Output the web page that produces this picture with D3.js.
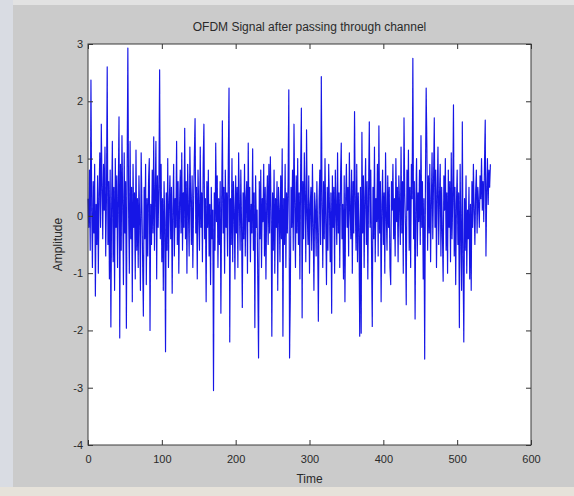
<!DOCTYPE html>
<html>
<head>
<meta charset="utf-8">
<script src="https://cdn.jsdelivr.net/npm/d3@7"></script>
<style>
  body { margin: 0; background: #cbcbcb; }
  svg text { font-family: "Liberation Sans", Arial, sans-serif; fill: #2a2a2a; }
</style>
</head>
<body>
<div id="chart-area"></div>
<script>
// amplitude per sample (sample index = time)
var amplitude = [
	0.3, -0.2, 0.8, -0.6, 2.37, 0.1, -0.9, 0.6, -0.3, 0.9,
	-1.4, 0.2, -0.5, 0.7, -1.0, 0.4, 1.1, -0.2, 1.6, 0.5,
	-0.4, 0.9, 0.1, 1.2, -0.7, 0.3, 2.6, -0.5, 0.6, -1.1,
	0.8, -1.94, 0.2, 1.3, -0.8, 0.5, -1.3, 1.0, -0.2, 0.7,
	-0.9, 0.4, 1.73, -2.13, 0.9, -0.6, 1.4, 0.2, -1.2, 1.1,
	-0.3, 0.6, -1.96, 0.8, 2.93, 0.1, -1.0, 1.3, -0.4, 0.5,
	-1.5, 0.9, -0.2, 0.4, -1.1, 1.15, -0.6, 0.3, -0.9, 0.7,
	-0.1, -1.3, 1.1, 0.2, -0.8, -1.75, 0.5, -0.4, 0.9, -1.2,
	0.3, -0.7, 0.6, 1.0, -2.0, 0.2, -0.5, 0.8, -0.3, 1.38,
	-0.6, 0.4, 1.3, -1.1, 0.7, -0.2, 0.5, 2.55, -0.4, 0.9,
	-0.8, 0.3, -1.3, 0.6, -0.1, -2.37, 0.4, -0.6, 1.0, -0.9,
	0.2, 0.7, -0.4, 0.5, -1.35, 0.1, 0.9, -0.7, 0.3, -0.2,
	1.3, -0.5, 0.6, -1.0, 0.2, 0.8, -0.3, 1.1, -0.6, 0.4,
	-0.2, 1.53, -0.4, 0.6, -1.0, 0.9, 0.1, -0.7, 1.2, 0.3,
	-0.5, 0.7, -0.9, 0.2, 1.0, 1.7, -0.3, 0.5, -1.1, 0.8,
	0.1, -0.6, 1.2, -0.2, 0.4, -0.8, 0.9, 1.6, -0.4, 0.3,
	-1.5, 0.6, -0.2, 0.8, -0.7, 0.2, -1.2, 0.5, -0.4, 0.1,
	-3.05, 0.4, -0.6, 1.27, -0.1, 0.7, -0.9, 0.3, -0.5, 0.6,
	-1.7, 0.2, 1.66, -0.3, 0.5, -1.0, 0.8, -0.2, 0.4, -0.7,
	0.9, 2.23, -2.2, 0.3, -0.5, 1.0, -0.8, 0.6, 0.1, -1.1,
	0.7, -0.3, 0.5, -0.9, 1.1, 0.2, -0.6, 0.8, -0.2, -1.6,
	0.4, -0.4, 0.9, -0.7, 0.3, 0.6, -1.0, 1.27, -0.1, 0.5,
	-0.8, 0.2, -0.3, 1.17, -0.6, 0.4, -1.95, 0.7, -0.2, 0.1,
	-1.2, -2.48, 0.6, -0.4, 0.8, -0.9, 0.3, -0.1, 0.9, -0.7,
	0.5, -1.1, 0.2, 0.7, -0.5, 0.9, -0.3, 1.03, 0.1, -2.1,
	0.4, -0.6, 0.8, -1.0, 0.3, -0.2, 0.6, -1.3, 0.5, 0.1,
	-0.8, 0.7, -0.4, 1.17, -2.1, 0.3, -0.5, 0.9, -0.9, 0.4,
	-0.3, 0.6, 2.2, -2.48, -1.4, 0.5, -0.2, 0.8, -0.6, 1.6,
	0.2, -0.9, 0.7, -0.3, 1.0, -0.5, 0.4, -1.1, 0.8, 1.88,
	-1.78, 0.6, -0.4, 1.1, 0.3, -0.8, 1.5, 0.0, -0.5, 0.7,
	-1.0, 0.2, 0.5, -0.6, 0.9, -0.2, -1.3, 0.4, 0.1, -0.7,
	0.6, -0.3, -1.84, 0.3, 0.8, -0.5, 2.43, 0.2, -0.9, 0.6,
	-0.4, 1.0, -0.1, -1.2, 0.5, -0.6, 0.9, 0.2, -0.8, 0.4,
	-1.7, 0.7, -0.2, 0.5, -1.0, 0.8, 0.1, -0.5, 1.1, -0.3,
	0.4, -0.9, 0.6, 1.27, -0.4, 0.2, -1.1, 0.7, -1.5, 0.3,
	0.9, -0.2, 0.5, -0.7, 1.1, 0.1, -0.4, 0.8, -1.0, 0.6,
	-0.3, 1.82, 0.2, -0.6, 0.9, -0.8, 0.4, -0.2, -2.1, 0.5,
	-2.05, 1.46, -0.3, 0.7, -0.9, 0.3, 1.0, -0.5, 0.6, -1.1,
	0.4, 1.64, -0.2, 0.8, -0.6, -1.93, 0.5, -0.4, 1.2, -0.8,
	0.3, -0.1, 0.9, -0.7, 1.57, -0.3, 0.6, -1.5, 0.2, 0.8,
	-0.5, 0.4, -1.0, 1.1, 0.0, -0.6, 0.7, -0.2, 0.5, -0.9,
	-1.2, 0.6, 0.1, 0.9, -0.4, 0.3, -0.7, 1.0, -0.1, 0.5,
	-0.8, 0.7, 0.2, -0.5, 1.2, -0.3, 0.6, -1.0, 1.71, 0.4,
	-0.2, -1.55, 0.8, 0.1, 1.15, -0.6, 0.5, -0.9, 0.9, 0.3,
	2.75, -0.4, 0.6, -1.8, 0.2, 1.0, -0.7, 0.4, -0.1, 0.8,
	-0.5, 1.4, -0.2, 0.6, -1.1, 0.3, -2.5, 0.5, 2.23, 1.2,
	-0.6, 0.7, -0.3, 0.9, -0.8, 0.2, 1.1, -0.4, 0.6, 1.71,
	-0.2, 0.8, -0.9, 0.4, 1.2, -0.5, 0.3, 0.9, -0.7, 0.5,
	-0.3, -1.14, 0.7, 0.1, 1.0, -0.6, 0.4, -1.0, 0.8, -0.2,
	0.6, -0.8, 1.1, -0.4, 0.3, 1.94, -0.7, 0.5, -1.2, 0.2,
	0.8, -0.5, 0.4, -1.95, 0.9, -0.3, -1.3, 1.64, -0.8, -2.2,
	0.3, -0.6, 0.7, -1.0, 0.1, -0.4, 0.5, -1.1, 0.2, -1.3,
	0.6, -0.2, 0.9, 0.1, -0.5, 0.4, 0.8, -0.3, 0.5, 0.2,
	-0.2, 0.7, 0.3, 1.0, 0.1, 0.6, -0.1, 0.9, 1.67, -0.7,
	0.4, 1.0, 0.2, 0.8, 0.5, 0.9
];

var xTicks = [0, 100, 200, 300, 400, 500, 600];
var yTicks = [-4, -3, -2, -1, 0, 1, 2, 3];

var titleText = "OFDM Signal after passing through channel";
var xLabelText = "Time";
var yLabelText = "Amplitude";

var W = 574, H = 496;
var margin = { left: 88, top: 44, right: 43, bottom: 51 };
var width = W - margin.left - margin.right;
var height = H - margin.top - margin.bottom;

var svg = d3.select("#chart-area")
	.append("svg")
		.attr("width", W)
		.attr("height", H);

// soft blur so the trace looks like the screenshot
var defs = svg.append("defs");
defs.append("filter")
	.attr("id", "soft")
	.attr("x", "-5%").attr("y", "-5%").attr("width", "110%").attr("height", "110%")
	.append("feGaussianBlur")
	.attr("stdDeviation", 0.45);

// window edges (lighter strips around the grey figure)
svg.append("rect").attr("width", W).attr("height", H).attr("fill", "#cbcbcb");
svg.append("rect").attr("width", W).attr("height", 5).attr("fill", "#e2e2e2");
svg.append("rect").attr("width", 13).attr("height", H).attr("fill", "#d9dce3");
svg.append("rect").attr("y", 487).attr("width", W).attr("height", H - 487).attr("fill", "#e6e2da");

var canvas = svg.append("g")
	.attr("transform", "translate(" + margin.left + ", " + margin.top + ")");

canvas.append("rect")
	.attr("width", width)
	.attr("height", height)
	.attr("fill", "#ffffff");

//scales
var x = d3.scaleLinear()
	.domain([0, 600])
	.range([0, width]);

var y = d3.scaleLinear()
	.domain([-4, 3])
	.range([height, 0]);

//the signal
var line = d3.line()
	.x(function(d, i){ return x(i); })
	.y(function(d){ return y(d); });

canvas.append("path")
	.datum(amplitude)
	.attr("fill", "none")
	.attr("stroke", "#1414e6")
	.attr("stroke-width", 1.15)
	.attr("stroke-linejoin", "round")
	.attr("filter", "url(#soft)")
	.attr("d", line);

//axes, ticks pointing inwards like matlab
var fmt = function(d){ return String(d); };

var xAxisCall = d3.axisBottom(x).tickValues(xTicks).tickSize(-5).tickPadding(10).tickFormat(fmt);
var yAxisCall = d3.axisLeft(y).tickValues(yTicks).tickSize(-5).tickPadding(5).tickFormat(fmt);

canvas.append("g")
	.attr("class", "x axis")
	.attr("transform", "translate(0, " + height + ")")
	.call(xAxisCall);

canvas.append("g")
	.attr("class", "y axis")
	.call(yAxisCall);

canvas.append("g")
	.call(d3.axisTop(x).tickValues(xTicks).tickSize(-5).tickFormat(""));

canvas.append("g")
	.attr("transform", "translate(" + width + ", 0)")
	.call(d3.axisRight(y).tickValues(yTicks).tickSize(-5).tickFormat(""));

canvas.selectAll(".domain").remove();
canvas.selectAll(".tick line").attr("stroke", "#333");
canvas.selectAll(".tick text").attr("font-size", 11).attr("fill", "#2a2a2a");

canvas.append("rect")
	.attr("width", width)
	.attr("height", height)
	.attr("fill", "none")
	.attr("stroke", "#3a3a3a")
	.attr("stroke-width", 1);

//labels
canvas.append("text")
	.attr("x", width / 2)
	.attr("y", -13)
	.attr("text-anchor", "middle")
	.attr("font-size", 12)
	.text(titleText);

canvas.append("text")
	.attr("x", width / 2)
	.attr("y", height + 38)
	.attr("text-anchor", "middle")
	.attr("font-size", 12)
	.text(xLabelText);

canvas.append("text")
	.attr("transform", "rotate(-90)")
	.attr("x", -height / 2)
	.attr("y", -26)
	.attr("text-anchor", "middle")
	.attr("font-size", 12)
	.text(yLabelText);
</script>
</body>
</html>
